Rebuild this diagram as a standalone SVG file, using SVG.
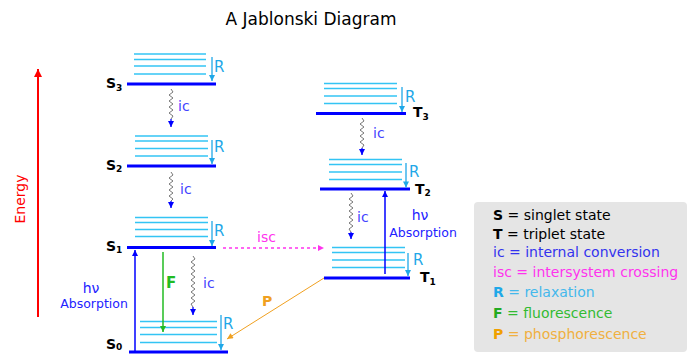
<svg xmlns="http://www.w3.org/2000/svg" width="688" height="354" viewBox="0 0 688 354">
<defs>
<marker id="aBlue" viewBox="0 0 10 10" refX="10" refY="5" markerUnits="userSpaceOnUse" markerWidth="7" markerHeight="6" orient="auto"><path d="M0,0 L10,5 L0,10 z" fill="#0000ff"/></marker>
<marker id="aSky" viewBox="0 0 10 10" refX="10" refY="5" markerUnits="userSpaceOnUse" markerWidth="7" markerHeight="6" orient="auto"><path d="M0,0 L10,5 L0,10 z" fill="#1fa8e8"/></marker>
<marker id="aGreen" viewBox="0 0 10 10" refX="10" refY="5" markerUnits="userSpaceOnUse" markerWidth="7" markerHeight="6" orient="auto"><path d="M0,0 L10,5 L0,10 z" fill="#22bb22"/></marker>
<marker id="aMag" viewBox="0 0 10 10" refX="10" refY="5" markerUnits="userSpaceOnUse" markerWidth="7" markerHeight="6" orient="auto"><path d="M0,0 L10,5 L0,10 z" fill="#ff33ee"/></marker>
<marker id="aOrange" viewBox="0 0 10 10" refX="10" refY="5" markerUnits="userSpaceOnUse" markerWidth="7" markerHeight="6" orient="auto"><path d="M0,0 L10,5 L0,10 z" fill="#f0a020"/></marker>
<marker id="aRed" viewBox="0 0 10 10" refX="10" refY="5" markerUnits="userSpaceOnUse" markerWidth="14" markerHeight="8" orient="auto"><path d="M0,0 L10,5 L0,10 z" fill="#ff0000"/></marker>
</defs>
<style>
text{font-family:"DejaVu Sans",Verdana,sans-serif}
.lvl{stroke:#0000ff;stroke-width:3}
.vib{stroke:#33c4f4;stroke-width:1.5}
.rel{stroke:#1fa8e8;stroke-width:1.3;marker-end:url(#aSky)}
.rt{fill:#1fa8e8;font-size:15px}
.ict{fill:#4444ff;font-size:14px}
.wave{fill:none;stroke:#777777;stroke-width:1}
.icl{stroke:#0000ff;stroke-width:1.3;marker-end:url(#aBlue)}
.lab{fill:#000000;font-size:14px;font-weight:bold}
.sub{font-size:9px}
.abs{stroke:#0000ff;stroke-width:1.5;marker-end:url(#aBlue)}
.abt{fill:#2222ff;text-anchor:middle}
.leg{font-size:14px}
</style>
<text x="311" y="25" font-size="17" text-anchor="middle" fill="#000">A Jablonski Diagram</text>
<g id="energy">
<line x1="38" y1="317" x2="38" y2="69" stroke="#ff0000" stroke-width="2" marker-end="url(#aRed)"/>
<text transform="translate(25,199) rotate(-90)" text-anchor="middle" font-size="14" fill="#ff0000">Energy</text>
</g>
<g id="S3">
<line class="vib" x1="134" y1="54" x2="206" y2="54"/><line class="vib" x1="134" y1="59.5" x2="206" y2="59.5"/><line class="vib" x1="134" y1="66" x2="206" y2="66"/><line class="vib" x1="134" y1="74" x2="206" y2="74"/>
<line class="lvl" x1="127" y1="84" x2="216" y2="84"/>
<line class="rel" x1="212" y1="57" x2="212" y2="81"/>
<text class="rt" x="214" y="72">R</text>
<text class="lab" x="106" y="88">S<tspan class="sub" dy="3">3</tspan></text>
</g>
<g id="S2">
<line class="vib" x1="135" y1="136" x2="208" y2="136"/><line class="vib" x1="135" y1="141" x2="208" y2="141"/><line class="vib" x1="135" y1="148.5" x2="208" y2="148.5"/><line class="vib" x1="135" y1="156" x2="208" y2="156"/>
<line class="lvl" x1="127" y1="166" x2="216" y2="166"/>
<line class="rel" x1="212" y1="140" x2="212" y2="164"/>
<text class="rt" x="214" y="152">R</text>
<text class="lab" x="106" y="170">S<tspan class="sub" dy="2">2</tspan></text>
</g>
<g id="S1">
<line class="vib" x1="135" y1="217.5" x2="208" y2="217.5"/><line class="vib" x1="135" y1="222.5" x2="208" y2="222.5"/><line class="vib" x1="135" y1="229.5" x2="208" y2="229.5"/><line class="vib" x1="135" y1="236.5" x2="208" y2="236.5"/>
<line class="lvl" x1="127" y1="247.5" x2="216" y2="247.5"/>
<line class="rel" x1="212" y1="221" x2="212" y2="246"/>
<text class="rt" x="214" y="236">R</text>
<text class="lab" x="106" y="251">S<tspan class="sub" dy="2">1</tspan></text>
</g>
<g id="S0">
<line class="vib" x1="140" y1="321.5" x2="217" y2="321.5"/><line class="vib" x1="140" y1="327.5" x2="217" y2="327.5"/><line class="vib" x1="140" y1="334.5" x2="217" y2="334.5"/><line class="vib" x1="140" y1="342.5" x2="217" y2="342.5"/>
<line class="lvl" x1="129" y1="352" x2="228" y2="352"/>
<line class="rel" x1="221" y1="315" x2="221" y2="350"/>
<text class="rt" x="223" y="329">R</text>
<text class="lab" x="106" y="349">S<tspan class="sub" dy="1">0</tspan></text>
</g>
<g id="T3">
<line class="vib" x1="324" y1="83.5" x2="397" y2="83.5"/><line class="vib" x1="324" y1="88.5" x2="397" y2="88.5"/><line class="vib" x1="324" y1="96" x2="397" y2="96"/><line class="vib" x1="324" y1="103.5" x2="397" y2="103.5"/>
<line class="lvl" x1="316" y1="113.5" x2="406" y2="113.5"/>
<line class="rel" x1="402" y1="87" x2="402" y2="112"/>
<text class="rt" x="405" y="102">R</text>
<text class="lab" x="413" y="117">T<tspan class="sub" dy="3">3</tspan></text>
</g>
<g id="T2">
<line class="vib" x1="329" y1="159.5" x2="402" y2="159.5"/><line class="vib" x1="329" y1="164.5" x2="402" y2="164.5"/><line class="vib" x1="329" y1="172" x2="402" y2="172"/><line class="vib" x1="329" y1="179.5" x2="402" y2="179.5"/>
<line class="lvl" x1="320" y1="189" x2="410" y2="189"/>
<line class="rel" x1="406" y1="163" x2="406" y2="187.5"/>
<text class="rt" x="409" y="177">R</text>
<text class="lab" x="415" y="194">T<tspan class="sub" dy="2">2</tspan></text>
</g>
<g id="T1">
<line class="vib" x1="332" y1="247.5" x2="405" y2="247.5"/><line class="vib" x1="332" y1="252.5" x2="405" y2="252.5"/><line class="vib" x1="332" y1="260" x2="405" y2="260"/><line class="vib" x1="332" y1="267.5" x2="405" y2="267.5"/>
<line class="lvl" x1="324" y1="278" x2="410" y2="278"/>
<line class="rel" x1="408" y1="253" x2="408" y2="276"/>
<text class="rt" x="413" y="265">R</text>
<text class="lab" x="420" y="282">T<tspan class="sub" dy="3">1</tspan></text>
</g>
<g id="connectors">
<polyline class="wave" points="171,89 173,92 169,95 173,98 169,101 173,104 169,107 173,110 169,113 173,116 171,119"/>
<line class="icl" x1="171" y1="119" x2="171" y2="127"/>
<text class="ict" x="178" y="111">ic</text>
<polyline class="wave" points="171,172 173,175 169,178 173,181 169,184 173,187 169,190 173,193 169,196 173,199 171,201"/>
<line class="icl" x1="171" y1="201" x2="171" y2="208"/>
<text class="ict" x="180" y="194">ic</text>
<polyline class="wave" points="193,256 195,259 191,262 195,265 191,268 195,271 191,274 195,277 191,280 195,283 191,286 195,289 191,292 195,295 191,298 195,301 191,304 193,307"/>
<line class="icl" x1="193" y1="307" x2="193" y2="315"/>
<text class="ict" x="203" y="288">ic</text>
<polyline class="wave" points="362,118 364,121 360,124 364,127 360,130 364,133 360,136 364,139 360,142 364,145 362,148"/>
<line class="icl" x1="362" y1="148" x2="362" y2="155"/>
<text class="ict" x="373" y="138">ic</text>
<polyline class="wave" points="351,193 353,196 349,199 353,202 349,205 353,208 349,211 353,214 349,217 353,220 349,223 353,226 349,229 351,232"/>
<line class="icl" x1="351" y1="232" x2="351" y2="239"/>
<text class="ict" x="357" y="222">ic</text>
<line x1="163" y1="252" x2="163" y2="332" stroke="#22bb22" stroke-width="1.5" marker-end="url(#aGreen)"/>
<text x="166" y="288" font-size="15" font-weight="bold" fill="#22bb22">F</text>
<line class="abs" x1="135" y1="352" x2="135" y2="250"/>
<text class="abt" x="91" y="293" font-size="14">hν</text>
<text class="abt" x="94" y="308" font-size="12.5">Absorption</text>
<line class="abs" x1="385" y1="274" x2="385" y2="191"/>
<text class="abt" x="420" y="220" font-size="14">hν</text>
<text class="abt" x="423" y="237" font-size="12.5">Absorption</text>
<line x1="223" y1="248" x2="324" y2="248" stroke="#ff33ee" stroke-width="1.5" stroke-dasharray="3,3" marker-end="url(#aMag)"/>
<text x="257" y="242" font-size="14" fill="#ff33ee">isc</text>
<line x1="324" y1="278" x2="227" y2="339" stroke="#f0a020" stroke-width="1" marker-end="url(#aOrange)"/>
<text x="262" y="306" font-size="14" font-weight="bold" fill="#f0a020">P</text>
</g>
<g id="legend">
<rect x="474" y="202" width="213" height="150" rx="4" fill="#e5e5e5"/>
<text class="leg" x="493" y="220" fill="#000"><tspan font-weight="bold">S</tspan> = singlet state</text>
<text class="leg" x="493" y="238.5" fill="#000"><tspan font-weight="bold">T</tspan> = triplet state</text>
<text class="leg" x="493" y="257" fill="#3333ee">ic = internal conversion</text>
<text class="leg" x="493" y="277" fill="#ff33ee">isc = intersystem crossing</text>
<text class="leg" x="493" y="297" fill="#44b8ec"><tspan font-weight="bold" fill="#1fa8e8">R</tspan> = relaxation</text>
<text class="leg" x="493" y="318" fill="#33bb33"><tspan font-weight="bold" fill="#22aa22">F</tspan> = fluorescence</text>
<text class="leg" x="493" y="339" fill="#f0b040"><tspan font-weight="bold" fill="#f0a000">P</tspan> = phosphorescence</text>
</g>
</svg>
